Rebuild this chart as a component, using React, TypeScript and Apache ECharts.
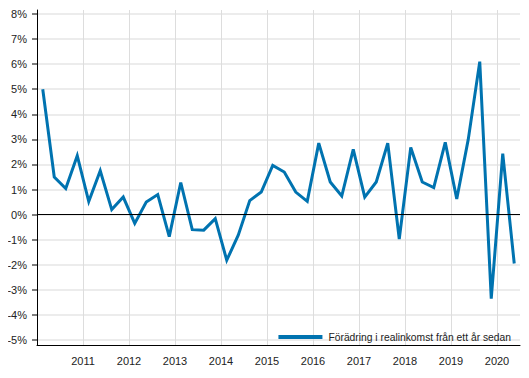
import React, { useEffect, useRef } from "react";
import * as echarts from "echarts";

const quarters: string[] = [
  "2010Q1", "2010Q2", "2010Q3", "2010Q4",
  "2011Q1", "2011Q2", "2011Q3", "2011Q4",
  "2012Q1", "2012Q2", "2012Q3", "2012Q4",
  "2013Q1", "2013Q2", "2013Q3", "2013Q4",
  "2014Q1", "2014Q2", "2014Q3", "2014Q4",
  "2015Q1", "2015Q2", "2015Q3", "2015Q4",
  "2016Q1", "2016Q2", "2016Q3", "2016Q4",
  "2017Q1", "2017Q2", "2017Q3", "2017Q4",
  "2018Q1", "2018Q2", "2018Q3", "2018Q4",
  "2019Q1", "2019Q2", "2019Q3", "2019Q4",
  "2020Q1", "2020Q2",
];

const realIncomeChange: number[] = [
  5.0, 1.5, 1.04, 2.35, 0.52, 1.75, 0.2, 0.7,
  -0.35, 0.5, 0.8, -0.88, 1.28, -0.6, -0.62, -0.16,
  -1.82, -0.82, 0.56, 0.9, 1.96, 1.7, 0.9, 0.53,
  2.85, 1.3, 0.74, 2.6, 0.7, 1.3, 2.85, -0.98,
  2.68, 1.3, 1.08, 2.88, 0.62, 3.0, 6.1, -3.35,
  2.43, -1.95,
];

const yearTicks: number[] = [2011, 2012, 2013, 2014, 2015, 2016, 2017, 2018, 2019, 2020];
const percentTicks: number[] = [-5, -4, -3, -2, -1, 0, 1, 2, 3, 4, 5, 6, 7, 8];

const seriesName = "Förädring i realinkomst från ett år sedan";

function quarterToX(q: string): number {
  const year = parseInt(q.slice(0, 4), 10);
  const qn = parseInt(q.slice(5), 10);
  return year + (qn - 1) * 0.25 + 0.125;
}

export default function App() {
  const ref = useRef<HTMLDivElement>(null);

  useEffect(() => {
    if (!ref.current) return;
    const chart = echarts.init(ref.current, null, { renderer: "svg" });
    const font = "'Liberation Sans', Arial, sans-serif";
    chart.setOption({
      animation: false,
      textStyle: { fontFamily: font },
      grid: { left: 37, right: 9, top: 10, bottom: 33 },
      legend: {
        right: 13,
        top: 327,
        icon: "rect",
        itemWidth: 44,
        itemHeight: 4,
        itemGap: 10,
        textStyle: { fontFamily: font, fontSize: 10.3, color: "#222", padding: [0, 0, 0, 1] },
        data: [seriesName],
      },
      xAxis: {
        type: "value",
        min: 2010,
        max: 2020.5,
        axisLine: { show: true, onZero: false, lineStyle: { color: "#000", width: 1 } },
        axisTick: { show: false, customValues: yearTicks },
        axisLabel: {
          customValues: yearTicks,
          color: "#222",
          fontSize: 11,
          margin: 10,
          fontFamily: font,
          formatter: (v: number) => String(v),
        },
        splitLine: { show: true, lineStyle: { color: "#dddddd", width: 1 } },
      },
      yAxis: {
        type: "value",
        min: -5.2,
        max: 8.16,
        axisLine: { show: true, onZero: false, lineStyle: { color: "#000", width: 1 } },
        axisTick: {
          show: true,
          length: 5,
          customValues: percentTicks,
          lineStyle: { color: "#555", width: 1.5 },
        },
        axisLabel: {
          customValues: percentTicks,
          color: "#222",
          fontSize: 11,
          margin: 10,
          fontFamily: font,
          formatter: (v: number) => `${v}%`,
        },
        splitLine: { show: true, lineStyle: { color: "#e6e6e6", width: 1.5 } },
      },
      series: [
        {
          name: seriesName,
          type: "line",
          data: quarters.map((q, i) => [quarterToX(q), realIncomeChange[i]]),
          showSymbol: false,
          symbol: "none",
          lineStyle: { color: "#0073b0", width: 3, join: "miter" },
          itemStyle: { color: "#0073b0" },
          markLine: {
            silent: true,
            symbol: "none",
            label: { show: false },
            lineStyle: { color: "#000", width: 1, type: "solid" },
            data: [{ yAxis: 0 }],
          },
          z: 3,
        },
      ],
    });
    return () => chart.dispose();
  }, []);

  return <div ref={ref} style={{ width: 529, height: 378, margin: -8 }} />;
}
